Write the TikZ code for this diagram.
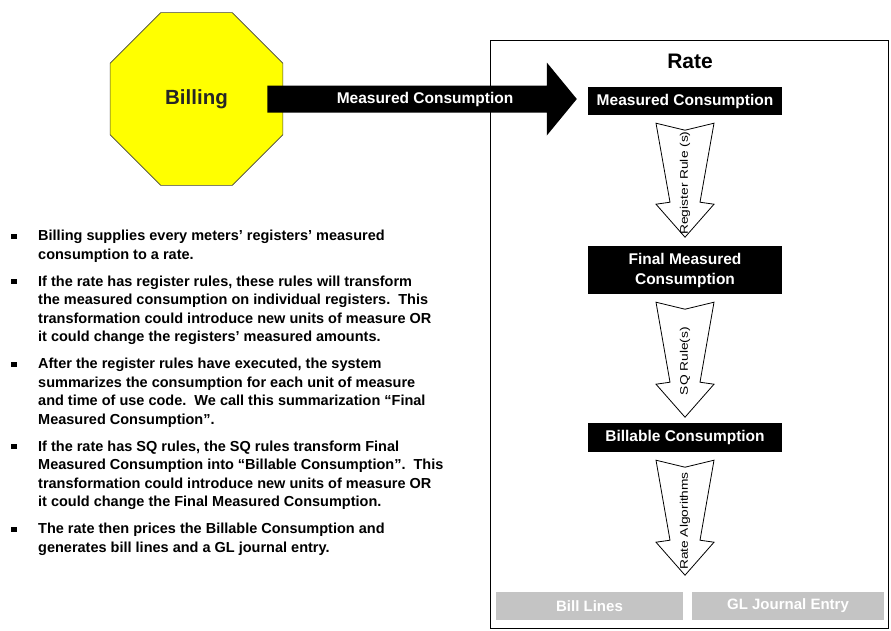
\documentclass[tikz,border=0pt]{standalone}
\usepackage{fontspec}
\setmainfont{Liberation Sans}
\usetikzlibrary{shapes.geometric,calc}
\definecolor{boxgray}{RGB}{196,196,196}
\definecolor{octyellow}{RGB}{255,255,0}
\newcommand\hollowarrow[2]{%
  \draw[hollowstyle] ($(#1)+(-29,8)$) -- ($(#1)+(0,15)$) -- ($(#1)+(29,8)$)
    -- ($(#1)+(15,#2-35)$) -- ($(#1)+(29,#2-33)$) -- ($(#1)+(0,#2)$)
    -- ($(#1)+(-29,#2-33)$) -- ($(#1)+(-15,#2-35)$) -- cycle;}
\begin{document}
\begin{tikzpicture}[x=1pt,y=-1pt,
  blackbox/.style={fill=black,text=white,font=\fontsize{15.5}{20}\selectfont\bfseries,
    minimum width=194pt,inner sep=0pt,align=center},
  graybox/.style={fill=boxgray,text=white,font=\fontsize{15}{18}\selectfont\bfseries,
    inner sep=0pt,minimum height=28pt},
  hollowstyle/.style={draw=black,fill=white,line width=0.8pt,line join=miter},
  rulelabel/.style={rotate=90,xscale=1.25,font=\fontsize{11}{12}\selectfont,inner sep=0pt},
  bulletdot/.style={fill=black,minimum width=6pt,minimum height=5pt,inner sep=0pt},
  bullettext/.style={anchor=north west,font=\fontsize{14.5}{18.5}\selectfont\bfseries,
    inner sep=0pt,align=left},
  arrowlabel/.style={text=white,font=\fontsize{15.5}{18}\selectfont\bfseries,inner sep=0pt}
]
\useasboundingbox (0,0) rectangle (891,630);

% Rate frame
\node[draw=black,line width=0.9pt,minimum width=398pt,minimum height=588pt,inner sep=0pt]
  (ratebox) at (689,334) {};
\node[font=\fontsize{21}{24}\selectfont\bfseries,inner sep=0pt] (ratetitle) at (690,61) {Rate};

% Billing octagon
\node[regular polygon,regular polygon sides=8,minimum size=187pt,inner sep=0pt,
  fill=octyellow,draw=black!75,line width=0.7pt,
  font=\fontsize{20.5}{24}\selectfont\bfseries,text=black!85] (bill) at (196.5,99) {Billing};

% boxes in Rate
\node[blackbox,minimum height=28pt] (mc) at (685,101) {Measured Consumption};
\node[blackbox,minimum height=48pt] (fmc) at (685,270) {Final Measured\\Consumption};
\node[blackbox,minimum height=29pt] (bc) at (685,437.5) {Billable Consumption};
\node[graybox,minimum width=187pt] (bl) at (589.5,606) {Bill Lines};
\node[graybox,minimum width=192pt] (gl) at (788,606) {GL Journal Entry};

% big black arrow
\coordinate (as) at ($(bill.east)+(-16,0)$);
\coordinate (at) at ($(bill.east -| mc.west)+(-11,0)$);
\fill[black] ($(as)+(0,-13.5)$) -- ($(at)+(-30,-13.5)$) -- ($(at)+(-30,-36.5)$) -- (at)
  -- ($(at)+(-30,36.5)$) -- ($(at)+(-30,13.5)$) -- ($(as)+(0,13.5)$) -- cycle;
\node[arrowlabel] (mclabel) at ($(as)!0.5!(at)+(3,0)$) {Measured Consumption};

% hollow arrows
\hollowarrow{mc.south}{122}
\hollowarrow{fmc.south}{123}
\hollowarrow{bc.south}{123}
\node[rulelabel] (r1) at (685,183) {Register Rule (s)};
\node[rulelabel] (r2) at (685,361) {SQ Rule(s)};
\node[rulelabel] (r3) at (685,521) {Rate Algorithms};

% bullets
\node[bulletdot] (d1) at (14,236) {};
\node[bulletdot] (d2) at (14,281.5) {};
\node[bulletdot] (d3) at (14,364) {};
\node[bulletdot] (d4) at (14,446.5) {};
\node[bulletdot] (d5) at (14,529) {};
\node[bullettext] (p1) at (38,230) {Billing supplies every meters’ registers’ measured\\consumption to a rate.};
\node[bullettext] (p2) at (38,275.5) {If the rate has register rules, these rules will transform\\the measured consumption on individual registers.\ \ This\\transformation could introduce new units of measure OR\\it could change the registers’ measured amounts.};
\node[bullettext] (p3) at (38,358) {After the register rules have executed, the system\\summarizes the consumption for each unit of measure\\and time of use code.\ \ We call this summarization “Final\\Measured Consumption”.};
\node[bullettext] (p4) at (38,440.5) {If the rate has SQ rules, the SQ rules transform Final\\Measured Consumption into “Billable Consumption”.\ \ This\\transformation could introduce new units of measure OR\\it could change the Final Measured Consumption.};
\node[bullettext] (p5) at (38,523) {The rate then prices the Billable Consumption and\\generates bill lines and a GL journal entry.};
\end{tikzpicture}
\end{document}
